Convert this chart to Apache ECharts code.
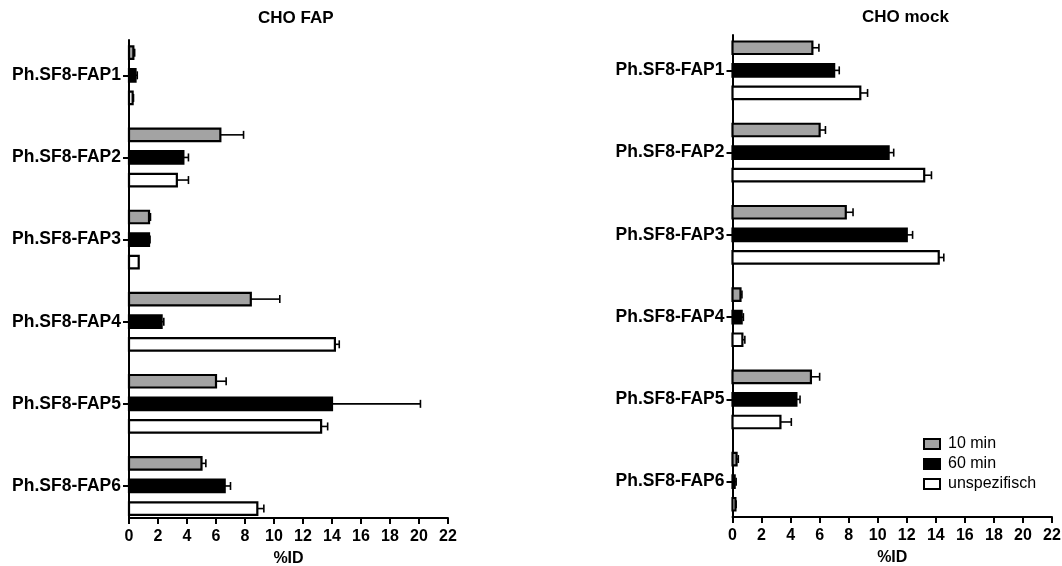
<!DOCTYPE html>
<html>
<head>
<meta charset="utf-8">
<script src="https://cdn.jsdelivr.net/npm/echarts@6/dist/echarts.min.js"></script>
<style>
  html, body { margin: 0; padding: 0; background: #fff; }
  #main { width: 1062px; height: 566px; }
</style>
</head>
<body>
<div id="main"></div>
<script>
// categories (same for both panels)
const categories = ['Ph.SF8-FAP1', 'Ph.SF8-FAP2', 'Ph.SF8-FAP3', 'Ph.SF8-FAP4', 'Ph.SF8-FAP5', 'Ph.SF8-FAP6']
const seriesNames = ['10 min', '60 min', 'unspezifisch']
const xTicks = [0, 2, 4, 6, 8, 10, 12, 14, 16, 18, 20, 22]

// CHO FAP  (%ID, mean and SD)
const fap10 = [0.3, 6.3, 1.38, 8.4, 6.0, 5.0]
const fap10Err = [0.09, 1.6, 0.1, 2.0, 0.7, 0.3]
const fap60 = [0.45, 3.75, 1.38, 2.25, 14.0, 6.6]
const fap60Err = [0.12, 0.35, 0.07, 0.15, 6.1, 0.4]
const fapUnsp = [0.25, 3.3, 0.67, 14.2, 13.25, 8.85]
const fapUnspErr = [0.06, 0.8, 0, 0.3, 0.45, 0.45]

// CHO mock
const mock10 = [5.5, 6.0, 7.8, 0.55, 5.4, 0.28]
const mock10Err = [0.45, 0.4, 0.5, 0.1, 0.6, 0.12]
const mock60 = [7.0, 10.75, 12.0, 0.63, 4.4, 0.15]
const mock60Err = [0.35, 0.35, 0.4, 0.12, 0.25, 0.1]
const mockUnsp = [8.8, 13.2, 14.2, 0.68, 3.3, 0.2]
const mockUnspErr = [0.5, 0.5, 0.35, 0.17, 0.75, 0.05]

const FONT = "'Liberation Sans', Arial, sans-serif"
const fills = ['#a3a3a3', '#000000', '#ffffff']
const slotOffset = [-22.6, 0, 22.6]  // px, bar position inside a group
const barH = 12.5

function toData(vals, errs) {
  return vals.map((v, i) => [v, errs[i], i])
}

// bar + one sided error bar, drawn through the axes
function makeRender(slot) {
  return function (params, api) {
    const v = api.value(0)
    const e = api.value(1)
    const c = api.value(2)
    const p0 = api.coord([0, c])
    const p1 = api.coord([v, c])
    const p2 = api.coord([v + e, c])
    const y = p0[1] + slotOffset[slot]
    const children = []
    if (e > 0) {
      children.push({ type: 'line', shape: { x1: p1[0], y1: y, x2: p2[0], y2: y }, style: { stroke: '#000', lineWidth: 1.6 } })
      children.push({ type: 'line', shape: { x1: p2[0], y1: y - 4, x2: p2[0], y2: y + 4 }, style: { stroke: '#000', lineWidth: 1.6 } })
    }
    children.push({
      type: 'rect',
      shape: { x: p0[0], y: y - barH / 2, width: p1[0] - p0[0], height: barH },
      style: { fill: fills[slot], stroke: '#000', lineWidth: 2.2 }
    })
    return { type: 'group', children: children }
  }
}

function panelSeries(gridIdx, lists) {
  return lists.map((d, k) => ({
    name: seriesNames[k],
    type: 'custom',
    xAxisIndex: gridIdx,
    yAxisIndex: gridIdx,
    itemStyle: { color: fills[k], borderColor: '#000', borderWidth: 2 },
    encode: { x: 0, y: 2 },
    renderItem: makeRender(k),
    data: toData(d[0], d[1]),
    silent: true
  }))
}

function xAxisCfg(gridIdx) {
  return {
    type: 'value', gridIndex: gridIdx, min: 0, max: 22, interval: 2,
    name: '%ID', nameLocation: 'middle', nameGap: 33,
    nameTextStyle: { fontFamily: FONT, fontWeight: 'bold', fontSize: 16, color: '#000' },
    axisLine: { show: true, onZero: false, lineStyle: { color: '#000', width: 2 } },
    axisTick: { show: true, length: 6, lineStyle: { color: '#000', width: 2 } },
    axisLabel: { fontFamily: FONT, fontWeight: 'bold', fontSize: 16, color: '#000', margin: 11 },
    splitLine: { show: false }
  }
}

function yAxisCfg(gridIdx, min, max) {
  const idx = categories.map((c, i) => i)
  return {
    type: 'value', gridIndex: gridIdx, inverse: true, min: min, max: max,
    axisLine: { show: true, onZero: false, lineStyle: { color: '#000', width: 2 } },
    axisTick: { show: true, length: 6, customValues: idx, lineStyle: { color: '#000', width: 2 } },
    axisLabel: {
      customValues: idx, margin: 8,
      formatter: v => categories[Math.round(v)] || '',
      fontFamily: FONT, fontWeight: 'bold', fontSize: 17.5, color: '#000'
    },
    splitLine: { show: false }
  }
}

const chart = echarts.init(document.getElementById('main'), null, { renderer: 'canvas' })

chart.setOption({
  animation: false,
  backgroundColor: '#fff',
  title: [
    { text: 'CHO FAP', left: 253, top: 5, textStyle: { fontFamily: FONT, fontWeight: 'bold', fontSize: 17, color: '#000' } },
    { text: 'CHO mock', left: 857, top: 4, textStyle: { fontFamily: FONT, fontWeight: 'bold', fontSize: 17, color: '#000' } }
  ],
  legend: {
    orient: 'vertical', left: 918, top: 431, itemWidth: 16, itemHeight: 10, itemGap: 4,
    icon: 'rect',
    data: seriesNames.map((n, k) => ({ name: n, itemStyle: { color: fills[k], borderColor: '#000', borderWidth: 2 } })),
    textStyle: { fontFamily: FONT, fontSize: 16, color: '#000', padding: [0, 0, 0, 3] }
  },
  grid: [
    { left: 129, top: 40, width: 319, height: 478, containLabel: false, outerBoundsMode: 'none' },
    { left: 732.5, top: 35, width: 319.5, height: 482, containLabel: false, outerBoundsMode: 'none' }
  ],
  xAxis: [xAxisCfg(0), xAxisCfg(1)],
  yAxis: [yAxisCfg(0, -0.43, 5.39), yAxisCfg(1, -0.43, 5.43)],
  series: [].concat(
    panelSeries(0, [[fap10, fap10Err], [fap60, fap60Err], [fapUnsp, fapUnspErr]]),
    panelSeries(1, [[mock10, mock10Err], [mock60, mock60Err], [mockUnsp, mockUnspErr]])
  )
})
</script>
</body>
</html>
